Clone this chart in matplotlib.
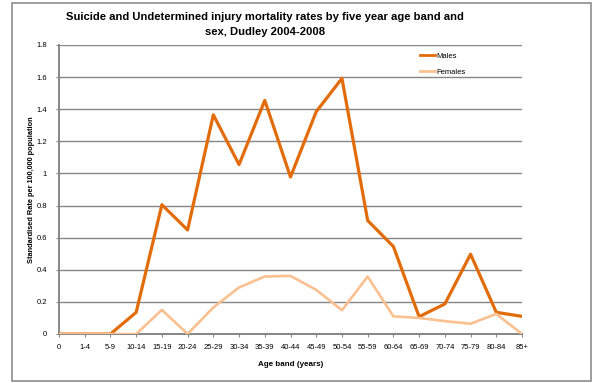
import matplotlib
matplotlib.use("Agg")
import matplotlib.pyplot as plt
from matplotlib.patches import Rectangle

plt.rcParams['font.family'] = ['Liberation Sans', 'DejaVu Sans']

age_bands = ["0", "1-4", "5-9", "10-14", "15-19", "20-24", "25-29", "30-34", "35-39",
             "40-44", "45-49", "50-54", "55-59", "60-64", "65-69", "70-74", "75-79",
             "80-84", "85+"]
males = [0.0, 0.0, 0.0, 0.135, 0.805, 0.648, 1.365, 1.055, 1.455, 0.978, 1.385, 1.592,
         0.707, 0.545, 0.108, 0.187, 0.497, 0.135, 0.11]
females = [0.0, 0.0, 0.0, 0.0, 0.15, 0.0, 0.165, 0.29, 0.358, 0.362, 0.275, 0.148,
           0.358, 0.11, 0.10, 0.08, 0.064, 0.125, 0.0]
yticks = [0, 0.2, 0.4, 0.6, 0.8, 1, 1.2, 1.4, 1.6, 1.8]
ytick_labels = ["0", "0.2", "0.4", "0.6", "0.8", "1", "1.2", "1.4", "1.6", "1.8"]

W, H = 593, 383
fig = plt.figure(figsize=(W / 100, H / 100), dpi=100)

# outer chart border
fig.patches.append(Rectangle((12 / W, 1 - 381 / H), (591 - 12) / W, (381 - 3) / H,
                             transform=fig.transFigure, fill=False,
                             edgecolor='#8c8c8c', linewidth=1.2))

ax = fig.add_axes([59 / W, 1 - 334 / H, (522 - 59) / W, (334 - 45) / H])
x = list(range(len(age_bands)))
ax.plot(x, males, color='#E36C0A', linewidth=2.3, label='Males', zorder=3)
ax.plot(x, females, color='#FAC090', linewidth=1.9, label='Females', zorder=3)

ax.set_xlim(0, len(age_bands) - 1)
ax.set_ylim(0, 1.8)
ax.set_yticks(yticks)
ax.set_yticklabels(ytick_labels)
ax.set_xticks(x)
ax.set_xticklabels(age_bands)
ax.grid(axis='y', color='#868686', linewidth=1.0)
ax.set_axisbelow(True)
for s in ['top', 'right']:
    ax.spines[s].set_visible(False)
for s in ['left', 'bottom']:
    ax.spines[s].set_color('#868686')
    ax.spines[s].set_linewidth(1.4)
ax.tick_params(axis='both', labelsize=5.5, colors='#868686', labelcolor='black',
               length=2.5, width=0.8, pad=5)
ax.tick_params(axis='y', pad=6)

ax.set_xlabel('Age band (years)', fontsize=5.8, fontweight='bold', labelpad=7)
ax.set_ylabel('Standardised Rate per 100,000 population', fontsize=5.3,
              fontweight='bold', labelpad=1)

fig.text(265 / W, 1 - 17 / H, 'Suicide and Undetermined injury mortality rates by five year age band and',
         ha='center', va='center', fontsize=8.1, fontweight='bold')
fig.text(265 / W, 1 - 32 / H, 'sex, Dudley 2004-2008',
         ha='center', va='center', fontsize=8.1, fontweight='bold')

leg = ax.legend(loc='upper left', bbox_to_anchor=(0.77, 0.99), frameon=False,
                fontsize=5.5, handlelength=1.9, handletextpad=0.2, labelspacing=1.1,
                borderaxespad=0.2)
for line in leg.get_lines():
    line.set_linewidth(2.0)

fig.savefig('out.png', dpi=100)
